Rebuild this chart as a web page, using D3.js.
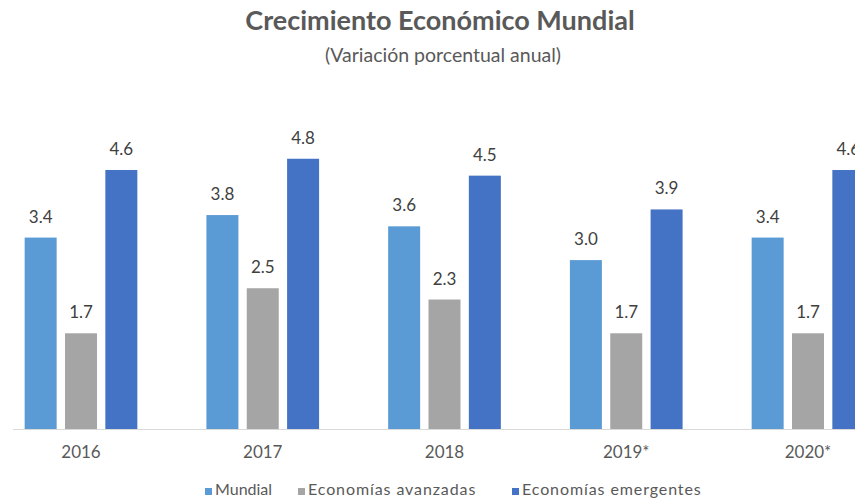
<!DOCTYPE html>
<html>
<head>
<meta charset="utf-8">
<script src="https://cdn.jsdelivr.net/npm/d3@7"></script>
<style>
  body { margin:0; background:#fff; }
  svg { display:block; font-family: Lato, "Open Sans", sans-serif; }
</style>
</head>
<body>
<div id="chart"></div>
<script>
// datos del grafico
var years = ["2016", "2017", "2018", "2019*", "2020*"];
var seriesNames = ["Mundial", "Economías avanzadas", "Economías emergentes"];
var mundial = [3.4, 3.8, 3.6, 3.0, 3.4];
var avanzadas = [1.7, 2.5, 2.3, 1.7, 1.7];
var emergentes = [4.6, 4.8, 4.5, 3.9, 4.6];
var colors = ["#5B9BD5", "#A5A5A5", "#4472C4"];

var svgwidth = 855, svgheight = 503;
var baseY = 429;

var svg = d3.select("#chart").append("svg")
  .attr("width", svgwidth).attr("height", svgheight);

// titulo
svg.append("text")
  .attr("x", 440).attr("y", 30)
  .attr("text-anchor", "middle")
  .attr("fill", "#595959")
  .style("font-size", "27px").style("font-weight", "bold")
  .text("Crecimiento Económico Mundial");
svg.append("text")
  .attr("x", 443).attr("y", 62)
  .attr("text-anchor", "middle")
  .attr("fill", "#595959")
  .style("font-size", "19.5px")
  .text("(Variación porcentual anual)");

var table = years.map(function(yr, i){
  return { year: yr, values: [mundial[i], avanzadas[i], emergentes[i]] };
});

var step = 181.75;
var x0 = d3.scaleBand().domain(years)
  .range([81 - step/2, 81 + 4.5*step])
  .paddingInner(0.38).paddingOuter(0.19);
var x1 = d3.scaleBand().domain([0,1,2])
  .range([0, x0.bandwidth()])
  .paddingInner(0.207);
var y = d3.scaleLinear().domain([0, 5]).range([baseY, baseY - 5*56.3]);

// linea base
svg.append("line")
  .attr("x1", 13).attr("x2", svgwidth)
  .attr("y1", baseY + 0.5).attr("y2", baseY + 0.5)
  .attr("stroke", "#d9d9d9").attr("stroke-width", 1);

var groups = svg.selectAll("g.grupo").data(table).enter()
  .append("g").attr("class", "grupo")
  .attr("transform", function(d){ return "translate(" + x0(d.year) + ",0)"; });

groups.selectAll("rect").data(function(d){ return d.values; }).enter()
  .append("rect")
  .attr("x", function(d, i){ return x1(i); })
  .attr("width", x1.bandwidth())
  .attr("y", function(d){ return y(d); })
  .attr("height", function(d){ return baseY - y(d); })
  .attr("fill", function(d, i){ return colors[i]; });

groups.selectAll("text.val").data(function(d){ return d.values; }).enter()
  .append("text").attr("class", "val")
  .attr("x", function(d, i){ return x1(i) + x1.bandwidth()/2; })
  .attr("y", function(d){ return y(d) - 15; })
  .attr("text-anchor", "middle")
  .attr("fill", "#404040")
  .style("font-size", "17px")
  .text(function(d){ return d3.format(".1f")(d); });

// eje x
var xAxis = svg.append("g")
  .attr("transform", "translate(0," + baseY + ")")
  .call(d3.axisBottom(x0).tickSize(0).tickPadding(17));
xAxis.select(".domain").remove();
xAxis.selectAll("text")
  .attr("fill", "#595959")
  .style("font-size", "17px")
  .style("font-family", "Lato, 'Open Sans', sans-serif");

// leyenda
var legend = svg.append("g").attr("transform", "translate(0,495)");
var legendX = [205, 298, 512];
seriesNames.forEach(function(name, i){
  var item = legend.append("g").attr("transform", "translate(" + legendX[i] + ",0)");
  item.append("rect").attr("x", 0).attr("y", -7).attr("width", 7).attr("height", 7)
    .attr("fill", colors[i]);
  item.append("text").attr("x", 10).attr("y", 0)
    .attr("fill", "#595959")
    .style("font-size", "16px")
    .style("letter-spacing", i == 0 ? "0px" : "0.9px")
    .text(name);
});
</script>
</body>
</html>
